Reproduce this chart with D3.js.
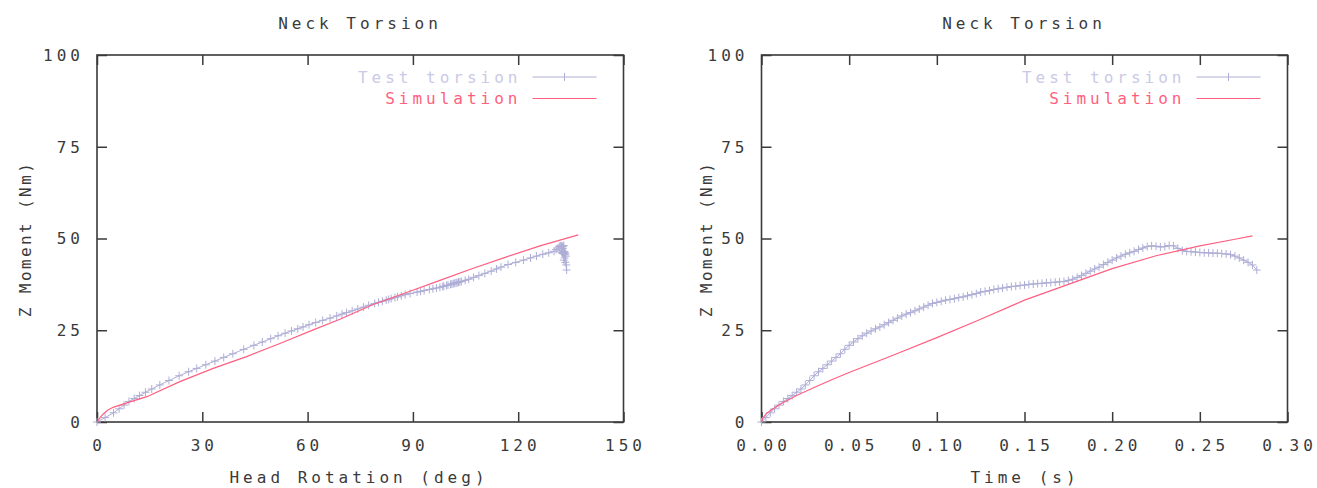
<!DOCTYPE html>
<html>
<head>
<meta charset="utf-8">
<script src="https://cdn.jsdelivr.net/npm/d3@7"></script>
<style>
  body { margin: 0; background: #fff; }
  text { font-family: "DejaVu Sans Mono", monospace; font-size: 16px; letter-spacing: 4px; fill: #3a3a3a; }
  text.ylab { letter-spacing: 2.4px; }
</style>
</head>
<body>
<script>
// test torsion samples (same test, shown against rotation and against time)
var testTime = [
  0.0000, 0.0025, 0.0050, 0.0075, 0.0100, 0.0125, 0.0150, 0.0175, 0.0200, 0.0225,
  0.0250, 0.0275, 0.0300, 0.0325, 0.0350, 0.0375, 0.0400, 0.0425, 0.0450, 0.0475,
  0.0500, 0.0525, 0.0550, 0.0575, 0.0600, 0.0625, 0.0650, 0.0675, 0.0700, 0.0725,
  0.0750, 0.0775, 0.0800, 0.0825, 0.0850, 0.0875, 0.0900, 0.0925, 0.0950, 0.0975,
  0.1000, 0.1025, 0.1050, 0.1075, 0.1100, 0.1125, 0.1150, 0.1175, 0.1200, 0.1225,
  0.1250, 0.1275, 0.1300, 0.1325, 0.1350, 0.1375, 0.1400, 0.1425, 0.1450, 0.1475,
  0.1500, 0.1525, 0.1550, 0.1575, 0.1600, 0.1625, 0.1650, 0.1675, 0.1700, 0.1725,
  0.1750, 0.1775, 0.1800, 0.1825, 0.1850, 0.1875, 0.1900, 0.1925, 0.1950, 0.1975,
  0.2000, 0.2025, 0.2050, 0.2075, 0.2100, 0.2125, 0.2150, 0.2175, 0.2200, 0.2225,
  0.2250, 0.2275, 0.2300, 0.2325, 0.2350, 0.2375, 0.2400, 0.2425, 0.2450, 0.2475,
  0.2500, 0.2525, 0.2550, 0.2575, 0.2600, 0.2625, 0.2650, 0.2675, 0.2700, 0.2725,
  0.2750, 0.2775, 0.2800, 0.2825
];
var testRotation = [
  0.0, 2.3, 4.7, 6.3, 7.7, 9.1, 10.6, 12.1, 13.8, 15.6,
  17.9, 20.5, 23.4, 26.1, 28.4, 31.0, 33.6, 36.1, 38.7, 41.8,
  44.7, 47.1, 49.5, 51.6, 53.6, 55.4, 57.2, 58.7, 60.4, 62.3,
  64.3, 66.4, 68.3, 69.8, 71.1, 72.7, 74.3, 75.9, 77.4, 79.1,
  80.2, 81.3, 82.4, 83.1, 83.8, 84.9, 85.6, 86.7, 87.8, 89.2,
  91.2, 92.2, 93.2, 94.7, 95.7, 96.7, 97.7, 98.5, 98.8, 99.6,
  100.0, 100.7, 101.1, 101.5, 101.9, 102.3, 102.6, 103.0, 103.4, 103.8,
  104.9, 105.9, 107.3, 108.8, 110.5, 112.3, 113.8, 115.1, 117.1, 119.3,
  121.5, 123.5, 125.2, 127.0, 128.7, 130.2, 130.8, 131.3, 131.7, 132.0,
  132.3, 132.6, 132.4, 132.8, 133.0, 132.7, 132.5, 132.9, 133.2, 132.8,
  132.4, 132.6, 133.1, 133.4, 133.0, 132.7, 132.9, 133.3, 133.6, 133.2,
  133.0, 133.4, 133.7, 133.8
];
var testMoment = [
  0.0, 1.2, 2.5, 3.6, 4.6, 5.6, 6.4, 7.2, 8.1, 9.0,
  10.1, 11.3, 12.6, 13.7, 14.6, 15.6, 16.6, 17.6, 18.6, 19.8,
  20.9, 21.8, 22.7, 23.5, 24.2, 24.8, 25.4, 25.9, 26.5, 27.1,
  27.7, 28.3, 28.9, 29.4, 29.8, 30.3, 30.8, 31.3, 31.8, 32.3,
  32.6, 32.9, 33.2, 33.4, 33.6, 33.9, 34.1, 34.4, 34.7, 35.0,
  35.4, 35.6, 35.8, 36.1, 36.3, 36.5, 36.7, 36.9, 37.0, 37.2,
  37.3, 37.5, 37.6, 37.7, 37.8, 37.9, 38.0, 38.1, 38.2, 38.3,
  38.6, 38.9, 39.4, 39.9, 40.5, 41.1, 41.7, 42.2, 42.9, 43.5,
  44.1, 44.7, 45.2, 45.7, 46.1, 46.5, 47.0, 47.4, 47.8, 48.0,
  47.9, 47.7, 47.8, 48.1, 48.0, 47.3, 46.7, 46.5, 46.4, 46.3,
  46.2, 46.1, 46.1, 46.0, 46.0, 45.9, 45.8, 45.6, 45.2, 44.7,
  44.1, 43.5, 42.8, 41.4
];

// simulation curves
var simRotation = [0, 1, 1.8, 3, 4.6, 9.4, 14.2, 23.6, 33.1, 42.6, 52.1, 61.6, 69.2, 78.7, 88.2, 97.7, 107.2, 116.7, 126.2, 137.1];
var simRotMoment = [0, 1.3, 2.2, 3.2, 4.0, 5.5, 6.9, 11.0, 14.6, 17.8, 21.4, 25.1, 28.0, 32.0, 35.3, 38.6, 41.9, 45.0, 48.0, 51.0];
var simTime = [0, 0.001, 0.003, 0.006, 0.01, 0.02, 0.03, 0.04, 0.05, 0.075, 0.1, 0.125, 0.15, 0.175, 0.2, 0.225, 0.25, 0.27, 0.28];
var simTimeMoment = [0, 1.2, 2.4, 3.4, 4.7, 7.2, 9.4, 11.5, 13.5, 18.2, 23.0, 28.0, 33.2, 37.5, 41.8, 45.3, 48.0, 49.8, 50.7];

// ticks
var rotTicks = [0, 30, 60, 90, 120, 150];
var timeTicks = [0, 0.05, 0.10, 0.15, 0.20, 0.25, 0.30];
var momentTicks = [0, 25, 50, 75, 100];

var testColor = "#aeaed6";
var testTextColor = "#cacae6";
var simColor = "#ff5f80";
var frameColor = "#3a3a3a";
var LS = 4; // letter spacing

var svg = d3.select("body").append("svg")
    .attr("width", 1317)
    .attr("height", 488);

function drawPanel(p) {
    var x = d3.scaleLinear().domain(p.xDomain).range(p.xRange);
    var y = d3.scaleLinear().domain([0, 100]).range([422, 55]);
    var g = svg.append("g");

    // 刻度（向内）
    g.append("g").attr("transform", "translate(0,422)")
        .call(d3.axisBottom(x).tickValues(p.xTicks).tickSize(-10).tickFormat(""));
    g.append("g").attr("transform", "translate(0,55)")
        .call(d3.axisTop(x).tickValues(p.xTicks).tickSize(-10).tickFormat(""));
    g.append("g").attr("transform", "translate(" + p.xRange[0] + ",0)")
        .call(d3.axisLeft(y).tickValues(momentTicks).tickSize(-10).tickFormat(""));
    g.append("g").attr("transform", "translate(" + p.xRange[1] + ",0)")
        .call(d3.axisRight(y).tickValues(momentTicks).tickSize(-10).tickFormat(""));
    g.selectAll(".domain").remove();
    g.selectAll(".tick line").attr("stroke", frameColor).attr("stroke-width", 1.5);

    // 边框
    g.append("rect")
        .attr("x", p.xRange[0]).attr("y", 55)
        .attr("width", p.xRange[1] - p.xRange[0]).attr("height", 422 - 55)
        .attr("fill", "none").attr("stroke", frameColor).attr("stroke-width", 1.6);

    // 刻度标签
    g.selectAll(".xl").data(p.xTicks).enter().append("text")
        .attr("x", function (d) { return x(d) + LS / 2; })
        .attr("y", 451)
        .attr("text-anchor", "middle")
        .text(p.xFormat);
    g.selectAll(".yl").data(momentTicks).enter().append("text")
        .attr("x", p.xRange[0] - 17 + LS)
        .attr("y", function (d) { return y(d); })
        .attr("dy", "0.36em")
        .attr("text-anchor", "end")
        .text(function (d) { return d; });

    // 标题和坐标轴名称
    g.append("text").attr("x", p.titleX).attr("y", 29)
        .attr("text-anchor", "middle").text("Neck Torsion");
    g.append("text").attr("x", p.xLabelX).attr("y", 483)
        .attr("text-anchor", "middle").text(p.xLabel);
    g.append("text")
        .attr("class", "ylab")
        .attr("transform", "translate(" + p.yLabelX + ",239) rotate(-90)")
        .attr("text-anchor", "middle").text("Z Moment (Nm)");

    // 数据
    var testPts = p.testX.map(function (v, i) { return [x(v), y(testMoment[i])]; });
    var simPts = p.simX.map(function (v, i) { return [x(v), y(p.simY[i])]; });
    var line = d3.line();

    g.append("path").attr("d", line(testPts))
        .attr("fill", "none").attr("stroke", testColor).attr("stroke-width", 1);
    g.selectAll(".mk").data(testPts).enter().append("path")
        .attr("d", function (d) { return "M" + (d[0] - 4) + "," + d[1] + "h8M" + d[0] + "," + (d[1] - 4) + "v8"; })
        .attr("fill", "none").attr("stroke", testColor).attr("stroke-width", 1);
    g.append("path").attr("d", line(simPts))
        .attr("fill", "none").attr("stroke", simColor).attr("stroke-width", 1.2);

    // 图例
    var lx = p.xRange[1];
    g.append("text").attr("x", lx - 106 + LS).attr("y", 77).attr("dy", "0.36em")
        .attr("text-anchor", "end").style("fill", testTextColor).text("Test torsion");
    g.append("line").attr("x1", lx - 91).attr("x2", lx - 27).attr("y1", 77).attr("y2", 77)
        .attr("stroke", testColor).attr("stroke-width", 1);
    g.append("path").attr("d", "M" + (lx - 59) + ",73v8")
        .attr("stroke", testColor).attr("stroke-width", 1);
    g.append("text").attr("x", lx - 106 + LS).attr("y", 98.5).attr("dy", "0.36em")
        .attr("text-anchor", "end").style("fill", simColor).text("Simulation");
    g.append("line").attr("x1", lx - 91).attr("x2", lx - 27).attr("y1", 98.5).attr("y2", 98.5)
        .attr("stroke", simColor).attr("stroke-width", 1.2);
}

drawPanel({
    xDomain: [0, 150], xRange: [97, 623.5], xTicks: rotTicks,
    xFormat: function (d) { return d; },
    titleX: 360, xLabelX: 359, yLabelX: 31,
    xLabel: "Head Rotation (deg)",
    testX: testRotation, simX: simRotation, simY: simRotMoment
});

drawPanel({
    xDomain: [0, 0.3], xRange: [761.5, 1287.5], xTicks: timeTicks,
    xFormat: d3.format(".2f"),
    titleX: 1024, xLabelX: 1025, yLabelX: 712,
    xLabel: "Time (s)",
    testX: testTime, simX: simTime, simY: simTimeMoment
});
</script>
</body>
</html>
